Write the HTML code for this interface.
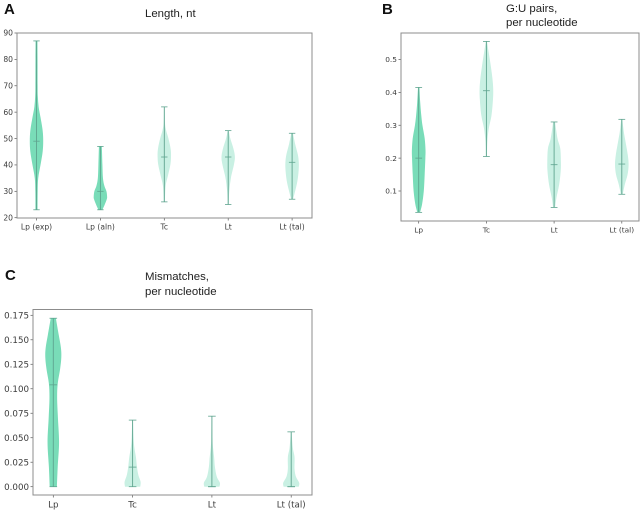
<!DOCTYPE html>
<html lang="en">
<head>
<meta charset="utf-8">
<title>Violin plots: length, G:U pairs, mismatches</title>
<style>
html,body{margin:0;padding:0;background:#fff;}
svg{display:block;filter:blur(0.3px);}
.tick{font-family:"DejaVu Sans",sans-serif;fill:#3c3c3c;}
.title{font-family:"Liberation Sans",sans-serif;font-size:11.4px;fill:#222;}
.letter{font-family:"Liberation Sans",sans-serif;font-size:15px;font-weight:bold;fill:#111;}
</style>
</head>
<body>
<svg id="figure" width="642" height="512" viewBox="0 0 642 512" xmlns="http://www.w3.org/2000/svg">
  <text class="letter" x="4" y="14">A</text>
  <text class="letter" x="382" y="14">B</text>
  <text class="letter" x="5" y="280">C</text>
  <text class="title" x="145" y="17">Length, nt</text>
  <text class="title" x="506" y="12">G:U pairs,</text>
  <text class="title" x="506" y="26">per nucleotide</text>
  <text class="title" x="145" y="280">Mismatches,</text>
  <text class="title" x="145" y="295">per nucleotide</text>
</svg>
<script>
// ---- Panel A data ----
const aCategories = ['Lp (exp)', 'Lp (aln)', 'Tc', 'Lt', 'Lt (tal)'];
const aTicks = [20, 30, 40, 50, 60, 70, 80, 90];
const aTickLabels = ['20', '30', '40', '50', '60', '70', '80', '90'];
const aMins = [23, 23, 26, 25, 27];
const aMaxs = [87, 47, 62, 53, 52];
const aMedians = [49, 30, 43, 43, 41];
const aValues = [
  [23, 30, 35, 40, 45, 49, 53, 58, 62, 66, 70, 80, 87],
  [23, 25, 27, 28, 30, 32, 35, 40, 47],
  [26, 32, 36, 40, 43, 46, 50, 53, 56, 62],
  [25, 30, 35, 40, 43, 46, 50, 53],
  [27, 30, 34, 38, 41, 44, 48, 52]
];
const aDensity = [
  [0.16, 0.18, 0.26, 0.6, 0.92, 1, 0.92, 0.6, 0.32, 0.2, 0.17, 0.16, 0.14],
  [0.3, 0.65, 0.95, 1, 0.9, 0.6, 0.38, 0.3, 0.22],
  [0.08, 0.2, 0.55, 0.9, 1, 0.95, 0.62, 0.28, 0.1, 0.05],
  [0.08, 0.16, 0.4, 0.85, 1, 0.8, 0.32, 0.08],
  [0.14, 0.45, 0.8, 0.98, 1, 0.85, 0.45, 0.12]
];

// ---- Panel B data ----
const bCategories = ['Lp', 'Tc', 'Lt', 'Lt (tal)'];
const bTicks = [0.1, 0.2, 0.3, 0.4, 0.5];
const bTickLabels = ['0.1', '0.2', '0.3', '0.4', '0.5'];
const bMins = [0.035, 0.205, 0.05, 0.09];
const bMaxs = [0.415, 0.555, 0.31, 0.318];
const bMedians = [0.2, 0.405, 0.18, 0.182];
const bValues = [
  [0.035, 0.06, 0.1, 0.15, 0.2, 0.225, 0.26, 0.3, 0.33, 0.37, 0.415],
  [0.205, 0.25, 0.29, 0.33, 0.38, 0.41, 0.44, 0.48, 0.52, 0.555],
  [0.05, 0.08, 0.12, 0.16, 0.19, 0.23, 0.26, 0.31],
  [0.09, 0.12, 0.15, 0.18, 0.21, 0.25, 0.28, 0.318]
];
const bDensity = [
  [0.2, 0.5, 0.75, 0.88, 0.98, 1, 0.88, 0.55, 0.38, 0.22, 0.1],
  [0.08, 0.14, 0.35, 0.75, 0.97, 1, 0.9, 0.65, 0.35, 0.08],
  [0.14, 0.35, 0.75, 0.97, 1, 0.9, 0.5, 0.14],
  [0.14, 0.45, 0.85, 1, 0.88, 0.55, 0.3, 0.08]
];

// ---- Panel C data ----
const cCategories = ['Lp', 'Tc', 'Lt', 'Lt (tal)'];
const cTicks = [0, 0.025, 0.05, 0.075, 0.1, 0.125, 0.15, 0.175];
const cTickLabels = ['0.000', '0.025', '0.050', '0.075', '0.100', '0.125', '0.150', '0.175'];
const cMins = [0, 0, 0, 0];
const cMaxs = [0.172, 0.068, 0.072, 0.056];
const cMedians = [0.104, 0.02, 0, 0];
const cValues = [
  [0, 0.02, 0.045, 0.07, 0.09, 0.105, 0.12, 0.132, 0.142, 0.155, 0.172],
  [0, 0.005, 0.012, 0.02, 0.03, 0.04, 0.05, 0.068],
  [0, 0.004, 0.01, 0.02, 0.03, 0.04, 0.05, 0.072],
  [0, 0.004, 0.01, 0.018, 0.03, 0.04, 0.056]
];
const cDensity = [
  [0.45, 0.55, 0.72, 0.58, 0.48, 0.55, 0.85, 1, 0.95, 0.68, 0.32],
  [0.95, 1, 0.72, 0.55, 0.42, 0.22, 0.12, 0.05],
  [0.95, 1, 0.62, 0.38, 0.28, 0.14, 0.08, 0.04],
  [0.95, 1, 0.6, 0.42, 0.42, 0.2, 0.05]
];

// ---- Drawing ----
const svg = document.getElementById('figure');
const NS = 'http://www.w3.org/2000/svg';
const DARK = '#79dcb8';
const LIGHT = '#c9f0e3';
const LINE = '#5fa48f';

function makeYAxis(v0, px0, v1, px1) {
  return function (v) { return px0 + (v - v0) * (px1 - px0) / (v1 - v0); };
}
function makeXAxis(first, step) {
  return function (i) { return first + i * step; };
}
function make(tag, attrs) {
  const el = document.createElementNS(NS, tag);
  Object.keys(attrs).forEach(function (k) { el.setAttribute(k, attrs[k]); });
  return el;
}
// Catmull-Rom smoothing through one edge of the violin outline.
function smoothEdge(pts) {
  let d = '';
  for (let i = 0; i < pts.length - 1; i++) {
    const p0 = pts[Math.max(i - 1, 0)];
    const p1 = pts[i];
    const p2 = pts[i + 1];
    const p3 = pts[Math.min(i + 2, pts.length - 1)];
    const c1x = p1[0] + (p2[0] - p0[0]) / 6;
    const c1y = p1[1] + (p2[1] - p0[1]) / 6;
    const c2x = p2[0] - (p3[0] - p1[0]) / 6;
    const c2y = p2[1] - (p3[1] - p1[1]) / 6;
    d += ' C' + c1x.toFixed(2) + ' ' + c1y.toFixed(2) + ' ' + c2x.toFixed(2) + ' ' + c2y.toFixed(2) + ' ' + p2[0].toFixed(2) + ' ' + p2[1].toFixed(2);
  }
  return d;
}

function drawPanel(p) {
  const y = makeYAxis(p.v0, p.px0, p.v1, p.px1);
  const x = makeXAxis(p.first, p.step);
  const g = make('g', {});
  
  
  svg.appendChild(g);

  p.categories.forEach(function (cat, i) {
    const cx = x(i);
    const vals = p.values[i];
    const dens = p.density[i];
    const right = vals.map(function (v, k) { return [cx + dens[k] * p.halfWidth, y(v)]; });
    const left = vals.map(function (v, k) { return [cx - dens[k] * p.halfWidth, y(v)]; }).reverse();
    const d = 'M' + right[0][0].toFixed(2) + ' ' + right[0][1].toFixed(2) + smoothEdge(right) +
      ' L' + left[0][0].toFixed(2) + ' ' + left[0][1].toFixed(2) + smoothEdge(left) + ' Z';
    const body = make('path', { d: d, fill: p.dark[i] ? DARK : LIGHT });
    
    
    g.appendChild(body);

    const stem = make('line', { x1: cx, x2: cx, y1: y(p.mins[i]), y2: y(p.maxs[i]), stroke: LINE, 'stroke-width': 0.9 });
    
    
    g.appendChild(stem);

    const capMin = make('line', { x1: cx - p.cap, x2: cx + p.cap, y1: y(p.mins[i]), y2: y(p.mins[i]), stroke: LINE, 'stroke-width': 0.8 });
    
    
    g.appendChild(capMin);

    const capMax = make('line', { x1: cx - p.cap, x2: cx + p.cap, y1: y(p.maxs[i]), y2: y(p.maxs[i]), stroke: LINE, 'stroke-width': 0.8 });
    
    
    g.appendChild(capMax);

    const median = make('line', { x1: cx - p.cap, x2: cx + p.cap, y1: y(p.medians[i]), y2: y(p.medians[i]), stroke: LINE, 'stroke-width': 0.8 });
    
    
    g.appendChild(median);

    const tick = make('line', { x1: cx, x2: cx, y1: p.bottom, y2: p.bottom + 2.5, stroke: '#555', 'stroke-width': 0.7 });
    
    
    g.appendChild(tick);

    const label = make('text', { x: cx, y: p.xLabelY, 'text-anchor': 'middle', 'font-size': p.font, class: 'tick' });
    label.textContent = cat;
    
    
    g.appendChild(label);
  });

  p.ticks.forEach(function (t, i) {
    const ty = y(t);
    const tick = make('line', { x1: p.left - 2.5, x2: p.left, y1: ty, y2: ty, stroke: '#555', 'stroke-width': 0.7 });
    
    
    g.appendChild(tick);

    const label = make('text', { x: p.left - 4, y: ty + p.font * 0.36, 'text-anchor': 'end', 'font-size': p.font, class: 'tick' });
    label.textContent = p.tickLabels[i];
    
    
    g.appendChild(label);
  });

  const frame = make('rect', { x: p.left, y: p.top, width: p.right - p.left, height: p.bottom - p.top, fill: 'none', stroke: '#8c8c8c', 'stroke-width': 1 });
  
  
  g.appendChild(frame);
}

drawPanel({
  name: 'panel-a-length', categories: aCategories, ticks: aTicks, tickLabels: aTickLabels,
  mins: aMins, maxs: aMaxs, medians: aMedians, values: aValues, density: aDensity,
  dark: [true, true, false, false, false],
  v0: 20, px0: 217.7, v1: 90, px1: 33,
  first: 36.5, step: 63.9, halfWidth: 6.7, cap: 3.2, font: 7.6,
  left: 17, right: 312, top: 33, bottom: 218, xLabelY: 229.5
});
drawPanel({
  name: 'panel-b-gu-pairs', categories: bCategories, ticks: bTicks, tickLabels: bTickLabels,
  mins: bMins, maxs: bMaxs, medians: bMedians, values: bValues, density: bDensity,
  dark: [true, false, false, false],
  v0: 0.1, px0: 191, v1: 0.5, px1: 59.5,
  first: 418.7, step: 67.7, halfWidth: 6.8, cap: 3.4, font: 7.4,
  left: 401, right: 639, top: 33, bottom: 221, xLabelY: 232.5
});
drawPanel({
  name: 'panel-c-mismatches', categories: cCategories, ticks: cTicks, tickLabels: cTickLabels,
  mins: cMins, maxs: cMaxs, medians: cMedians, values: cValues, density: cDensity,
  dark: [true, false, false, false],
  v0: 0, px0: 486.7, v1: 0.175, px1: 315.3,
  first: 53.3, step: 79.3, halfWidth: 8, cap: 3.8, font: 8.7,
  left: 33, right: 312, top: 309.5, bottom: 495, xLabelY: 507.5
});
</script>
</body>
</html>
